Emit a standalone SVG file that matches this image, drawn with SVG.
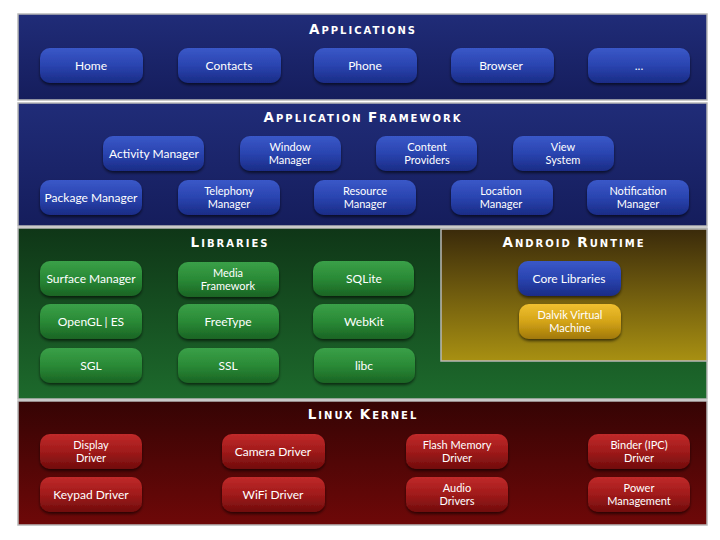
<svg xmlns="http://www.w3.org/2000/svg" width="720" height="540" viewBox="0 0 720 540">
<defs>
<linearGradient id="gApps" x1="0" y1="0" x2="0" y2="1"><stop offset="0" stop-color="#202c78"/><stop offset="1" stop-color="#151d5c"/></linearGradient>
<linearGradient id="gLib" x1="0" y1="0" x2="0" y2="1"><stop offset="0" stop-color="#0f3617"/><stop offset="1" stop-color="#1d6a2c"/></linearGradient>
<linearGradient id="gRt" x1="0" y1="0" x2="0" y2="1"><stop offset="0" stop-color="#3a2a0a"/><stop offset="1" stop-color="#a89012"/></linearGradient>
<linearGradient id="gKer" x1="0" y1="0" x2="0" y2="1"><stop offset="0" stop-color="#350404"/><stop offset="1" stop-color="#6e0808"/></linearGradient>
<linearGradient id="nBlue" x1="0" y1="0" x2="0" y2="1"><stop offset="0" stop-color="#3a58c8"/><stop offset="0.5" stop-color="#2a44b0"/><stop offset="1" stop-color="#1a2c86"/></linearGradient>
<linearGradient id="nGreen" x1="0" y1="0" x2="0" y2="1"><stop offset="0" stop-color="#3aa048"/><stop offset="0.5" stop-color="#2a8a36"/><stop offset="1" stop-color="#1a6424"/></linearGradient>
<linearGradient id="nRed" x1="0" y1="0" x2="0" y2="1"><stop offset="0" stop-color="#c02a2a"/><stop offset="0.5" stop-color="#a01a1a"/><stop offset="1" stop-color="#700c0c"/></linearGradient>
<linearGradient id="nGold" x1="0" y1="0" x2="0" y2="1"><stop offset="0" stop-color="#f0c030"/><stop offset="0.5" stop-color="#d4a418"/><stop offset="1" stop-color="#a07808"/></linearGradient>
<filter id="sh" x="-10%" y="-10%" width="130%" height="140%"><feDropShadow dx="0" dy="2" stdDeviation="1.5" flood-color="#000" flood-opacity="0.6"/></filter>
<style>
.panel{stroke:#b8b8b8;stroke-width:1.5}
.n{filter:url(#sh)}
.b{fill:url(#nBlue)}
.g{fill:url(#nGreen)}
.r{fill:url(#nRed)}
.y{fill:url(#nGold)}
.t{font-family:"Lato","Open Sans",sans-serif;font-size:12px;fill:#ffffff;text-anchor:middle}
.t2{font-family:"Lato","Open Sans",sans-serif;font-size:11px;fill:#ffffff;text-anchor:middle}
.h{font-family:"DejaVu Sans",sans-serif;font-weight:bold;fill:#ffffff;text-anchor:middle;letter-spacing:2px}
.h .c{font-size:10px}
.h .C{font-size:13.5px}
</style>
</defs>
<rect width="720" height="540" fill="#ffffff"/>
<g id="layers">
<rect class="panel" x="18" y="14" width="689" height="86" fill="url(#gApps)"/>
<rect class="panel" x="18" y="103" width="689" height="123" fill="url(#gApps)"/>
<rect class="panel" x="18" y="228" width="689" height="171" fill="url(#gLib)"/>
<rect class="panel" x="441" y="229" width="266" height="132" fill="url(#gRt)"/>
<rect class="panel" x="18" y="401" width="689" height="124" fill="url(#gKer)"/>
<text class="h" x="363" y="34"><tspan class="C">A</tspan><tspan class="c">PPLICATIONS</tspan></text>
<text class="h" x="363" y="122"><tspan class="C">A</tspan><tspan class="c">PPLICATION </tspan><tspan class="C">F</tspan><tspan class="c">RAMEWORK</tspan></text>
<text class="h" x="230" y="247"><tspan class="C">L</tspan><tspan class="c">IBRARIES</tspan></text>
<text class="h" x="574" y="247"><tspan class="C">A</tspan><tspan class="c">NDROID </tspan><tspan class="C">R</tspan><tspan class="c">UNTIME</tspan></text>
<text class="h" x="363" y="419"><tspan class="C">L</tspan><tspan class="c">INUX </tspan><tspan class="C">K</tspan><tspan class="c">ERNEL</tspan></text>
</g>
<g id="connectors"></g>
<g id="home"><rect class="n b" x="40" y="48" width="103" height="35" rx="10"/><text class="t" x="91" y="70">Home</text></g>
<g id="contacts"><rect class="n b" x="178" y="48" width="103" height="35" rx="10"/><text class="t" x="229" y="70">Contacts</text></g>
<g id="phone"><rect class="n b" x="314" y="48" width="103" height="35" rx="10"/><text class="t" x="365" y="70">Phone</text></g>
<g id="browser"><rect class="n b" x="451" y="48" width="103" height="35" rx="10"/><text class="t" x="501" y="70">Browser</text></g>
<g id="more"><rect class="n b" x="588" y="48" width="102" height="35" rx="10"/><text class="t" x="639" y="70">...</text></g>

<g id="activity-manager"><rect class="n b" x="103" y="136" width="101" height="35" rx="10"/><text class="t" x="154" y="158">Activity Manager</text></g>
<g id="window-manager"><rect class="n b" x="240" y="136" width="101" height="35" rx="10"/><text class="t2" x="290" y="150.5">Window</text><text class="t2" x="290" y="164">Manager</text></g>
<g id="content-providers"><rect class="n b" x="376" y="136" width="101" height="35" rx="10"/><text class="t2" x="427" y="150.5">Content</text><text class="t2" x="427" y="164">Providers</text></g>
<g id="view-system"><rect class="n b" x="513" y="136" width="101" height="35" rx="10"/><text class="t2" x="563" y="150.5">View</text><text class="t2" x="563" y="164">System</text></g>
<g id="package-manager"><rect class="n b" x="40" y="180" width="102" height="35" rx="10"/><text class="t" x="91" y="202">Package Manager</text></g>
<g id="telephony-manager"><rect class="n b" x="178" y="180" width="102" height="35" rx="10"/><text class="t2" x="229" y="194.5">Telephony</text><text class="t2" x="229" y="208">Manager</text></g>
<g id="resource-manager"><rect class="n b" x="314" y="180" width="102" height="35" rx="10"/><text class="t2" x="365" y="194.5">Resource</text><text class="t2" x="365" y="208">Manager</text></g>
<g id="location-manager"><rect class="n b" x="451" y="180" width="102" height="35" rx="10"/><text class="t2" x="501" y="194.5">Location</text><text class="t2" x="501" y="208">Manager</text></g>
<g id="notification-manager"><rect class="n b" x="587" y="180" width="102" height="35" rx="10"/><text class="t2" x="638" y="194.5">Notification</text><text class="t2" x="638" y="208">Manager</text></g>

<g id="surface-manager"><rect class="n g" x="40" y="261" width="102" height="35" rx="10"/><text class="t" x="91" y="283">Surface Manager</text></g>
<g id="media-framework"><rect class="n g" x="178" y="262" width="101" height="35" rx="10"/><text class="t2" x="228" y="276.5">Media</text><text class="t2" x="228" y="290">Framework</text></g>
<g id="sqlite"><rect class="n g" x="313" y="261" width="101" height="35" rx="10"/><text class="t" x="364" y="283">SQLite</text></g>
<g id="opengl"><rect class="n g" x="40" y="304" width="102" height="35" rx="10"/><text class="t" x="91" y="326">OpenGL | ES</text></g>
<g id="freetype"><rect class="n g" x="178" y="304" width="101" height="35" rx="10"/><text class="t" x="228" y="326">FreeType</text></g>
<g id="webkit"><rect class="n g" x="313" y="304" width="101" height="35" rx="10"/><text class="t" x="364" y="326">WebKit</text></g>
<g id="sgl"><rect class="n g" x="40" y="348" width="102" height="35" rx="10"/><text class="t" x="91" y="370">SGL</text></g>
<g id="ssl"><rect class="n g" x="178" y="348" width="101" height="35" rx="10"/><text class="t" x="228" y="370">SSL</text></g>
<g id="libc"><rect class="n g" x="314" y="348" width="101" height="35" rx="10"/><text class="t" x="364" y="370">libc</text></g>

<g id="core-libraries"><rect class="n b" x="518" y="261" width="103" height="35" rx="10"/><text class="t" x="569" y="283">Core Libraries</text></g>
<g id="dalvik"><rect class="n y" x="519" y="304" width="102" height="35" rx="10"/><text class="t2" x="570" y="318.5">Dalvik Virtual</text><text class="t2" x="570" y="332">Machine</text></g>

<g id="display-driver"><rect class="n r" x="40" y="434" width="102" height="35" rx="10"/><text class="t2" x="91" y="448.5">Display</text><text class="t2" x="91" y="462">Driver</text></g>
<g id="camera-driver"><rect class="n r" x="222" y="434" width="103" height="35" rx="10"/><text class="t" x="273" y="456">Camera Driver</text></g>
<g id="flash-memory-driver"><rect class="n r" x="406" y="434" width="102" height="35" rx="10"/><text class="t2" x="457" y="448.5">Flash Memory</text><text class="t2" x="457" y="462">Driver</text></g>
<g id="binder-driver"><rect class="n r" x="588" y="434" width="102" height="35" rx="10"/><text class="t2" x="639" y="448.5">Binder (IPC)</text><text class="t2" x="639" y="462">Driver</text></g>
<g id="keypad-driver"><rect class="n r" x="40" y="477" width="102" height="35" rx="10"/><text class="t" x="91" y="499">Keypad Driver</text></g>
<g id="wifi-driver"><rect class="n r" x="222" y="477" width="103" height="35" rx="10"/><text class="t" x="273" y="499">WiFi Driver</text></g>
<g id="audio-drivers"><rect class="n r" x="406" y="477" width="102" height="35" rx="10"/><text class="t2" x="457" y="491.5">Audio</text><text class="t2" x="457" y="505">Drivers</text></g>
<g id="power-management"><rect class="n r" x="588" y="477" width="102" height="35" rx="10"/><text class="t2" x="639" y="491.5">Power</text><text class="t2" x="639" y="505">Management</text></g>
</svg>
